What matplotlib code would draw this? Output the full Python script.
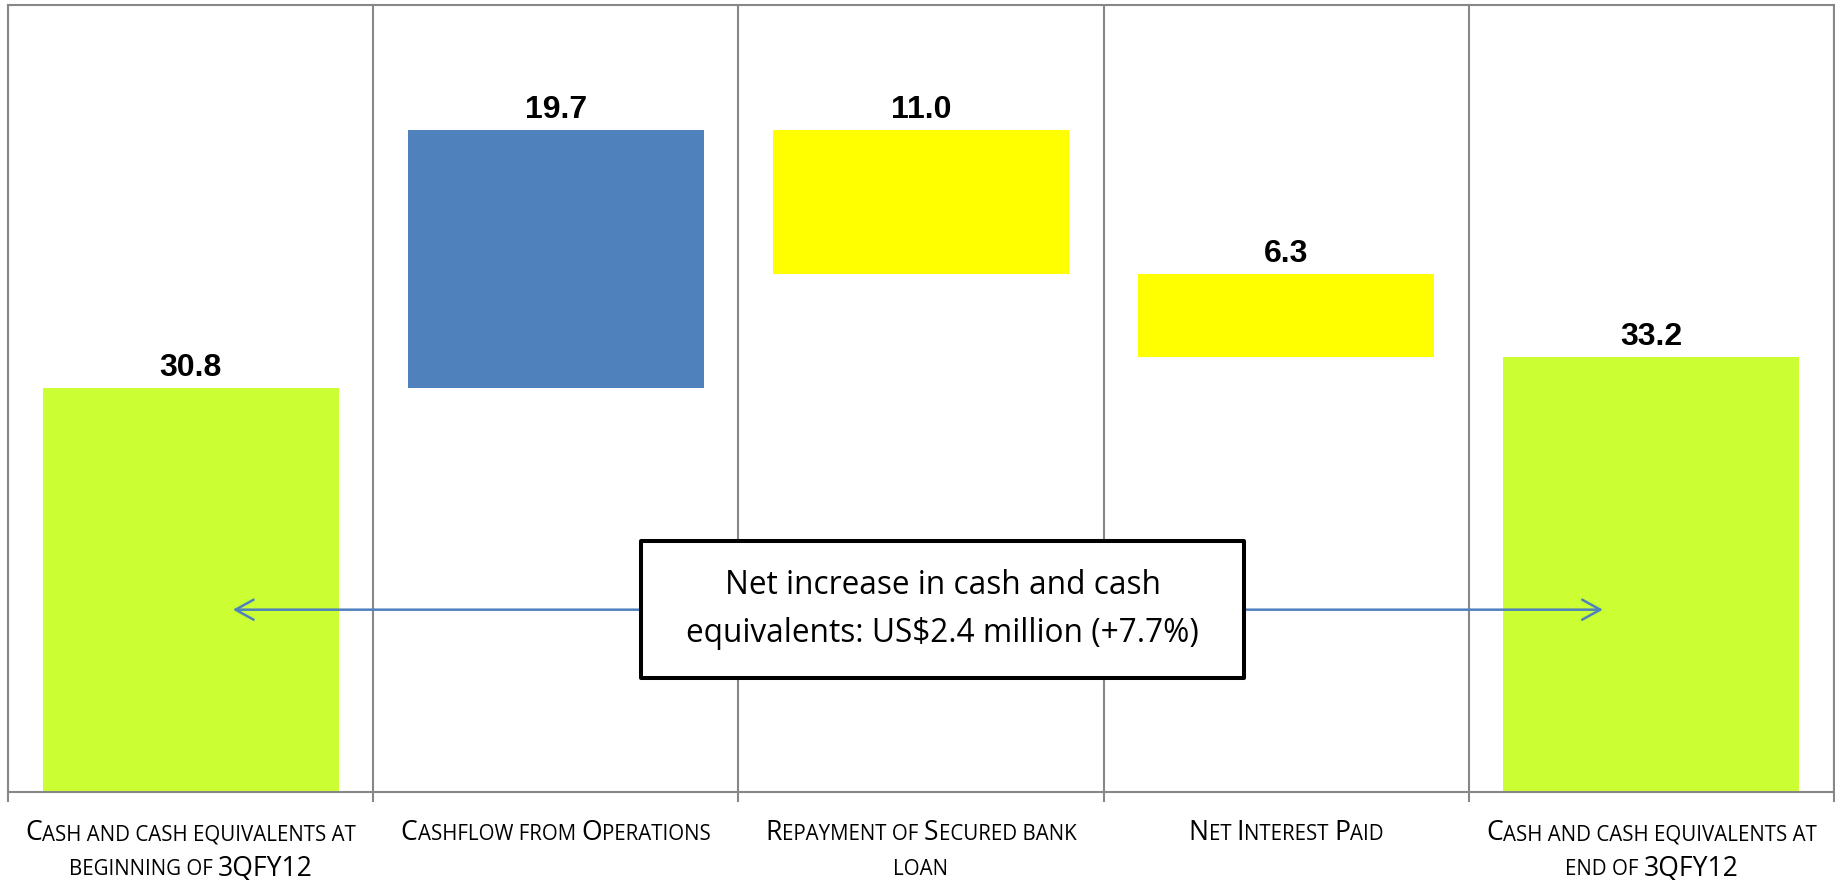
import numpy as np
import matplotlib
matplotlib.use("Agg")
from matplotlib import pyplot as plt
from matplotlib import transforms
from matplotlib.patches import Rectangle
from matplotlib.font_manager import FontProperties, findfont, get_font

try:
    from matplotlib.ft2font import LoadFlags
    NO_HINT = LoadFlags.NO_HINTING
except ImportError:
    from matplotlib.ft2font import LOAD_NO_HINTING as NO_HINT

# data (US$ million)
categories = [
    "Cash and cash equivalents at\nbeginning of 3QFY12",
    "Cashflow from Operations",
    "Repayment of Secured bank\nloan",
    "Net Interest Paid",
    "Cash and cash equivalents at\nend of 3QFY12",
]
values = [30.8, 19.7, -11.0, -6.3, 33.2]
kinds = ["total", "delta", "delta", "delta", "total"]
colors = ["#CCFF33", "#4F81BD", "#FFFF00", "#FFFF00", "#CCFF33"]
note = "Net increase in cash and cash\nequivalents: US$2.4 million (+7.7%)"

LABEL_FONT = "Open Sans"
BIG_PT = 19.1
SMALL_PT = 14.8
GRID_GRAY = "#878787"


def text_advance(s, size, family):
    font = get_font(findfont(FontProperties(family=family)))
    font.set_size(size, 72)
    total = 0.0
    for ch in s:
        g = font.load_char(ord(ch), flags=NO_HINT)
        total += g.linearHoriAdvance / 65536
    return total


def smallcaps_runs(line):
    runs = []
    for ch in line:
        size = SMALL_PT if (ch.islower() or ch == " ") else BIG_PT
        if runs and runs[-1][1] == size:
            runs[-1][0] += ch.upper()
        else:
            runs.append([ch.upper(), size])
    return runs


def draw_smallcaps(fig, ax, x, label, first_drop, line_gap):
    for j, line in enumerate(label.split("\n")):
        runs = smallcaps_runs(line)
        widths = [text_advance(t, s, LABEL_FONT) for t, s in runs]
        pen = -sum(widths) / 2
        for (t, s), w in zip(runs, widths):
            tr = ax.get_xaxis_transform() + transforms.ScaledTranslation(
                pen / 72, -(first_drop + j * line_gap) / 72, fig.dpi_scale_trans
            )
            ax.text(x, 0, t, transform=tr, fontsize=s, family=LABEL_FONT,
                    ha="left", va="baseline", clip_on=False, color="black")
            pen += w


def waterfall(values, kinds):
    bottoms, heights, tops = [], [], []
    running = 0.0
    for v, k in zip(values, kinds):
        if k == "total":
            bottoms.append(0.0)
            heights.append(v)
            running = v
        else:
            bottoms.append(min(running, running + v))
            heights.append(abs(v))
            running += v
        tops.append(bottoms[-1] + heights[-1])
    return np.array(bottoms), np.array(heights), np.array(tops)


def main():
    fig = plt.figure(figsize=(18.35, 8.8), dpi=100)
    ax = fig.add_axes([8 / 1835, 88 / 880, 1826 / 1835, 787 / 880])

    x = np.arange(len(categories))
    bottoms, heights, tops = waterfall(values, kinds)

    ax.bar(x, heights, bottom=bottoms, width=0.81, color=colors, zorder=2)

    for xi, top, v in zip(x, tops, values):
        ax.annotate(f"{abs(v):.1f}", xy=(xi, top), xytext=(0, 8.6),
                    textcoords="offset points", ha="center", va="baseline",
                    fontsize=23, fontweight="bold", family="Liberation Sans",
                    zorder=3)

    ax.set_xlim(-0.5, len(categories) - 0.5)
    ax.set_ylim(0, 60)

    bounds = np.arange(-0.5, len(categories), 1.0)
    ax.set_xticks(bounds)
    ax.set_xticklabels([""] * len(bounds))
    ax.tick_params(axis="x", length=7.2, width=1.5, color=GRID_GRAY, direction="out")
    ax.set_yticks([])
    ax.grid(True, axis="x", color=GRID_GRAY, linewidth=1.5, zorder=1)
    ax.set_axisbelow(True)
    for sp in ax.spines.values():
        sp.set_color(GRID_GRAY)
        sp.set_linewidth(1.5)

    for xi, label in zip(x, categories):
        draw_smallcaps(fig, ax, xi, label, first_drop=34.6, line_gap=25.2)

    # two-headed arrow between start and end balances
    ax.annotate("", xy=(0.116, 13.9), xytext=(3.867, 13.9),
                arrowprops=dict(arrowstyle="<->,head_length=0.65,head_width=0.36",
                                color="#4F81BD", lw=1.8, mutation_scale=20,
                                shrinkA=0, shrinkB=0),
                zorder=3)

    ax.add_patch(Rectangle((1.234, 8.69), 1.651, 10.45, facecolor="white",
                           edgecolor="black", linewidth=2.9, joinstyle="round",
                           zorder=4))
    ax.text(2.059, 13.9, note, ha="center", va="center", fontsize=22.8,
            family=LABEL_FONT, linespacing=1.62, zorder=5)

    fig.savefig("out.png", dpi=100)
    plt.close()


if __name__ == "__main__":
    main()
